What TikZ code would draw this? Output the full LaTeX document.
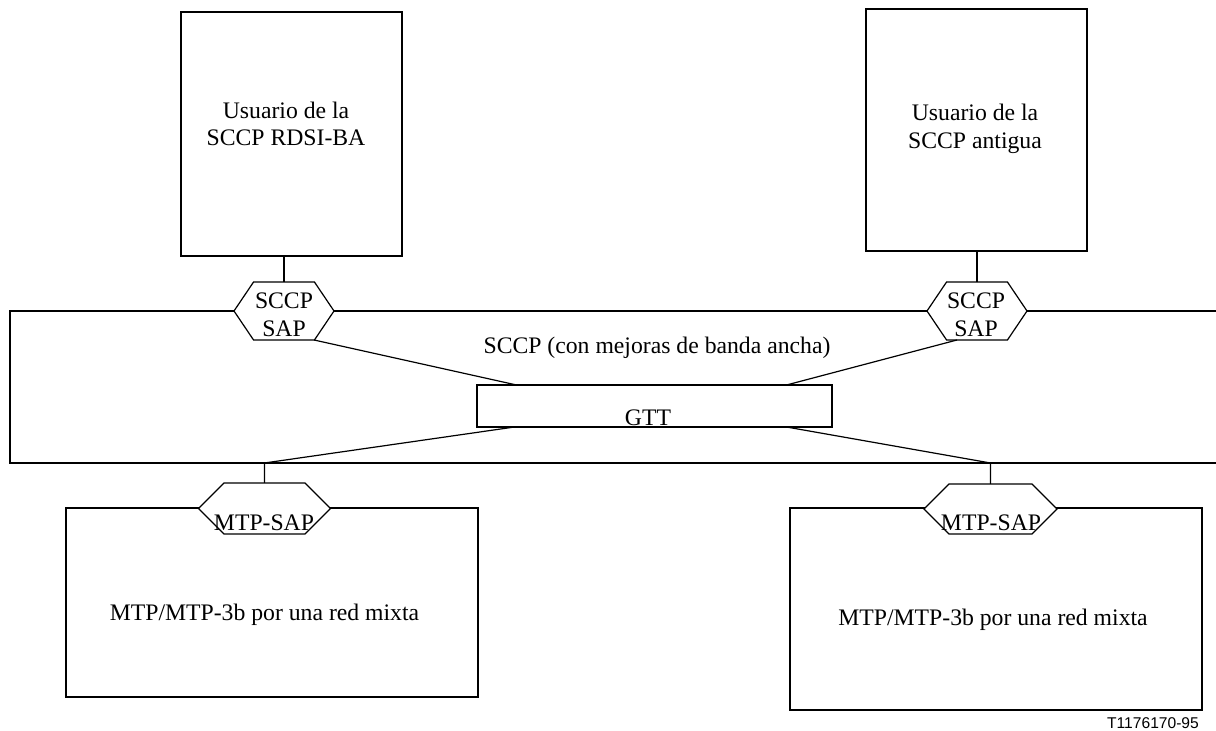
\documentclass[tikz,border=0pt]{standalone}
\usepackage{fontspec}
\setmainfont{Liberation Serif}
\newfontfamily\tagfont{Liberation Sans}
\usetikzlibrary{shapes}

\begin{document}
\begin{tikzpicture}[x=0.5pt,y=-0.5pt,line width=0.6pt]
    \tikzstyle{block}=[draw,inner sep=0pt,outer sep=0pt]
    \tikzstyle{sap}=[draw,fill=white,shape=signal,signal to=west and east,inner sep=0pt,outer sep=0pt]
    \tikzstyle{txt}=[font=\fontsize{11.85}{13.8}\selectfont,align=center,inner sep=0pt]
    \useasboundingbox (0,0) rectangle (1216,731);
    \node[block,minimum width=110.5pt,minimum height=122pt] (usr_1) at (291.5,134) {};
    \node[block,minimum width=110.5pt,minimum height=121pt] (usr_2) at (976.5,130) {};
    \coordinate (frame_nw) at (10,311);
    \coordinate (frame_sw) at (10,463);
    \draw (1216,311) -- (frame_nw) -- (frame_sw) -- (1216,463);
    \node[block,minimum width=206pt,minimum height=94.5pt] (mtp_1) at (272,602.5) {};
    \node[block,minimum width=206pt,minimum height=101pt] (mtp_2) at (996,609) {};
    \node[block,minimum width=177.5pt,minimum height=21pt] (gtt) at (654.5,406) {};
    \node[sap,signal pointer angle=112,minimum width=50pt,minimum height=29pt] (sap_1) at (284,311) {};
    \node[sap,signal pointer angle=112,minimum width=50pt,minimum height=29pt] (sap_2) at (977,311) {};
    \node[sap,signal pointer angle=90,minimum width=66pt,minimum height=25.5pt] (msap_1) at (264.5,508.5) {};
    \node[sap,signal pointer angle=90,minimum width=66.5pt,minimum height=25pt] (msap_2) at (990.5,509) {};
    \draw (sap_1.north) -- (sap_1.north |- usr_1.south);
    \draw (sap_2.north) -- (sap_2.north |- usr_2.south);
    \draw ([xshift=15pt]sap_1.south) -- ([xshift=-69pt]gtt.north);
    \draw ([xshift=-10pt]sap_2.south) -- ([xshift=66pt]gtt.north);
    \draw ([xshift=-70pt]gtt.south) -- (msap_1.north |- frame_sw) -- (msap_1.north);
    \draw ([xshift=66pt]gtt.south) -- (msap_2.north |- frame_sw) -- (msap_2.north);
    \node[txt] (usr_1_t) at (286,124) {Usuario de la\\SCCP RDSI-BA};
    \node[txt] (usr_2_t) at (975,129) {Usuario de la\\SCCP antigua};
    \node[txt] (sap_1_t) at (284,314.5) {SCCP\\SAP};
    \node[txt] (sap_2_t) at (976,314.5) {SCCP\\SAP};
    \node[txt] (sccp_t) at (657,348) {SCCP (con mejoras de banda ancha)};
    \node[txt] (gtt_t) at (648,418) {GTT};
    \node[txt] (msap_1_t) at (264,523) {MTP-SAP};
    \node[txt] (msap_2_t) at (991,523) {MTP-SAP};
    \node[txt] (mtp_1_t) at (264.5,615) {MTP/MTP-3b por una red mixta};
    \node[txt] (mtp_2_t) at (993,620) {MTP/MTP-3b por una red mixta};
    \node[font=\tagfont\fontsize{7.8}{9}\selectfont,inner sep=0pt] (tag) at (1153,723) {T1176170-95};
\end{tikzpicture}
\end{document}
